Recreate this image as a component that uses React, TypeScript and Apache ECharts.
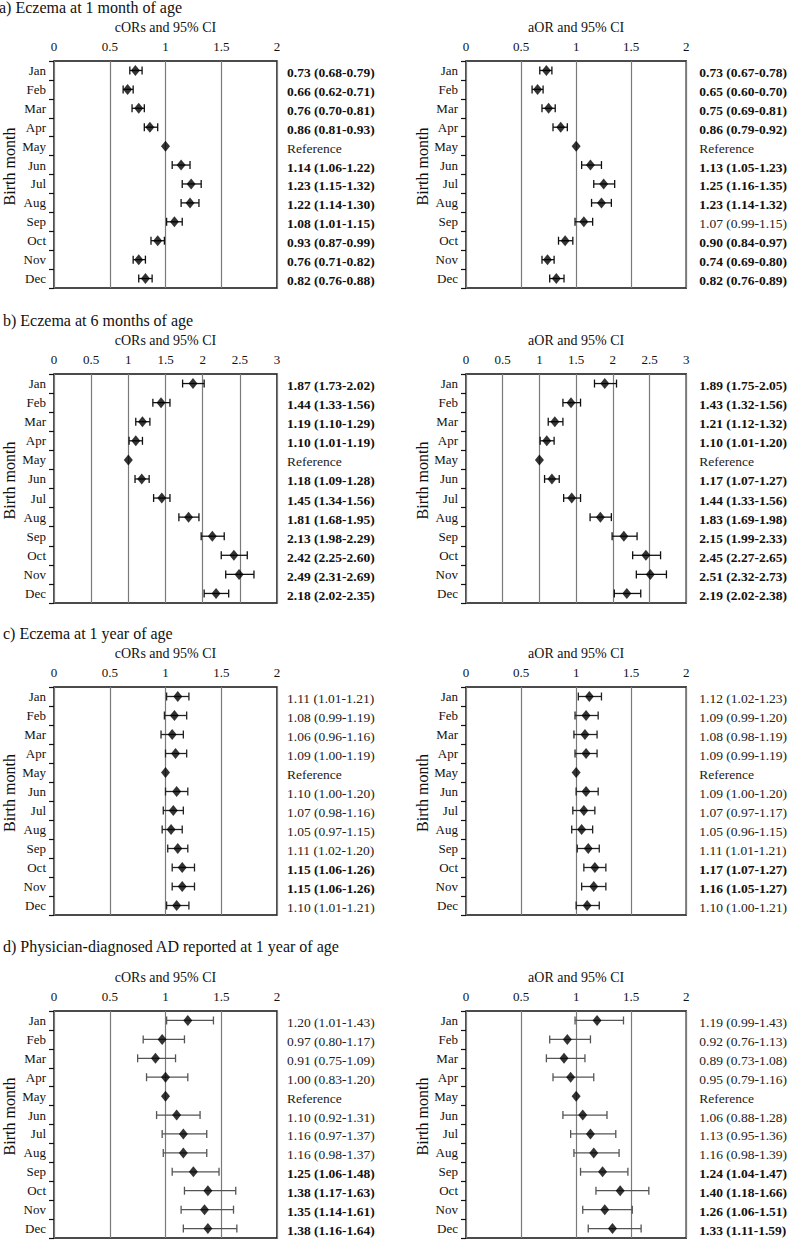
import React, { useEffect, useRef } from 'react';
import * as echarts from 'echarts';

const MONTHS = ['Jan', 'Feb', 'Mar', 'Apr', 'May', 'Jun', 'Jul', 'Aug', 'Sep', 'Oct', 'Nov', 'Dec'];

// a) Eczema at 1 month – crude
const A_C_OR = [0.73, 0.66, 0.76, 0.86, 1, 1.14, 1.23, 1.22, 1.08, 0.93, 0.76, 0.82];
const A_C_LO = [0.68, 0.62, 0.70, 0.81, null, 1.06, 1.15, 1.14, 1.01, 0.87, 0.71, 0.76];
const A_C_HI = [0.79, 0.71, 0.81, 0.93, null, 1.22, 1.32, 1.30, 1.15, 0.99, 0.82, 0.88];
const A_C_BOLD = [1, 1, 1, 1, 0, 1, 1, 1, 1, 1, 1, 1];
// a) adjusted
const A_A_OR = [0.73, 0.65, 0.75, 0.86, 1, 1.13, 1.25, 1.23, 1.07, 0.90, 0.74, 0.82];
const A_A_LO = [0.67, 0.60, 0.69, 0.79, null, 1.05, 1.16, 1.14, 0.99, 0.84, 0.69, 0.76];
const A_A_HI = [0.78, 0.70, 0.81, 0.92, null, 1.23, 1.35, 1.32, 1.15, 0.97, 0.80, 0.89];
const A_A_BOLD = [1, 1, 1, 1, 0, 1, 1, 1, 0, 1, 1, 1];

// b) Eczema at 6 months – crude
const B_C_OR = [1.87, 1.44, 1.19, 1.10, 1, 1.18, 1.45, 1.81, 2.13, 2.42, 2.49, 2.18];
const B_C_LO = [1.73, 1.33, 1.10, 1.01, null, 1.09, 1.34, 1.68, 1.98, 2.25, 2.31, 2.02];
const B_C_HI = [2.02, 1.56, 1.29, 1.19, null, 1.28, 1.56, 1.95, 2.29, 2.60, 2.69, 2.35];
const B_C_BOLD = [1, 1, 1, 1, 0, 1, 1, 1, 1, 1, 1, 1];
// b) adjusted
const B_A_OR = [1.89, 1.43, 1.21, 1.10, 1, 1.17, 1.44, 1.83, 2.15, 2.45, 2.51, 2.19];
const B_A_LO = [1.75, 1.32, 1.12, 1.01, null, 1.07, 1.33, 1.69, 1.99, 2.27, 2.32, 2.02];
const B_A_HI = [2.05, 1.56, 1.32, 1.20, null, 1.27, 1.56, 1.98, 2.33, 2.65, 2.73, 2.38];
const B_A_BOLD = [1, 1, 1, 1, 0, 1, 1, 1, 1, 1, 1, 1];

// c) Eczema at 1 year – crude
const C_C_OR = [1.11, 1.08, 1.06, 1.09, 1, 1.10, 1.07, 1.05, 1.11, 1.15, 1.15, 1.10];
const C_C_LO = [1.01, 0.99, 0.96, 1.00, null, 1.00, 0.98, 0.97, 1.02, 1.06, 1.06, 1.01];
const C_C_HI = [1.21, 1.19, 1.16, 1.19, null, 1.20, 1.16, 1.15, 1.20, 1.26, 1.26, 1.21];
const C_C_BOLD = [0, 0, 0, 0, 0, 0, 0, 0, 0, 1, 1, 0];
// c) adjusted
const C_A_OR = [1.12, 1.09, 1.08, 1.09, 1, 1.09, 1.07, 1.05, 1.11, 1.17, 1.16, 1.10];
const C_A_LO = [1.02, 0.99, 0.98, 0.99, null, 1.00, 0.97, 0.96, 1.01, 1.07, 1.05, 1.00];
const C_A_HI = [1.23, 1.20, 1.19, 1.19, null, 1.20, 1.17, 1.15, 1.21, 1.27, 1.27, 1.21];
const C_A_BOLD = [0, 0, 0, 0, 0, 0, 0, 0, 0, 1, 1, 0];

// d) Physician-diagnosed AD at 1 year – crude
const D_C_OR = [1.20, 0.97, 0.91, 1.00, 1, 1.10, 1.16, 1.16, 1.25, 1.38, 1.35, 1.38];
const D_C_LO = [1.01, 0.80, 0.75, 0.83, null, 0.92, 0.97, 0.98, 1.06, 1.17, 1.14, 1.16];
const D_C_HI = [1.43, 1.17, 1.09, 1.20, null, 1.31, 1.37, 1.37, 1.48, 1.63, 1.61, 1.64];
const D_C_BOLD = [0, 0, 0, 0, 0, 0, 0, 0, 1, 1, 1, 1];
// d) adjusted
const D_A_OR = [1.19, 0.92, 0.89, 0.95, 1, 1.06, 1.13, 1.16, 1.24, 1.40, 1.26, 1.33];
const D_A_LO = [0.99, 0.76, 0.73, 0.79, null, 0.88, 0.95, 0.98, 1.04, 1.18, 1.06, 1.11];
const D_A_HI = [1.43, 1.13, 1.08, 1.16, null, 1.28, 1.36, 1.39, 1.47, 1.66, 1.51, 1.59];
const D_A_BOLD = [0, 0, 0, 0, 0, 0, 0, 0, 1, 1, 1, 1];

const TITLES = [
  'a) Eczema at 1 month of age',
  'b) Eczema at 6 months of age',
  'c) Eczema at 1 year of age',
  'd) Physician-diagnosed AD reported at 1 year of age',
];
const AXIS_NAME_CRUDE = 'cORs and 95% CI';
const AXIS_NAME_ADJ = 'aOR and 95% CI';
const Y_NAME = 'Birth month';
const REF_TEXT = 'Reference';

const FONT = "'Liberation Serif', 'Times New Roman', Times, serif";

const ROWS = [
  { top: 61, height: 227, titleY: 7, titleX: -1, max: 2, bar: '#111' },
  { top: 374, height: 229, titleY: 320, titleX: 3, max: 3, bar: '#111' },
  { top: 687, height: 228, titleY: 633, titleX: 3, max: 2, bar: '#222' },
  { top: 1011, height: 227, titleY: 946, titleX: 3, max: 2, bar: '#555' },
];
const COLS = [
  { left: 54, width: 223, yNameX: 9, textMargin: 10, name: AXIS_NAME_CRUDE },
  { left: 466, width: 222, yNameX: 422, textMargin: 13, name: AXIS_NAME_ADJ },
];

const DATA = [
  [[A_C_OR, A_C_LO, A_C_HI, A_C_BOLD], [A_A_OR, A_A_LO, A_A_HI, A_A_BOLD]],
  [[B_C_OR, B_C_LO, B_C_HI, B_C_BOLD], [B_A_OR, B_A_LO, B_A_HI, B_A_BOLD]],
  [[C_C_OR, C_C_LO, C_C_HI, C_C_BOLD], [C_A_OR, C_A_LO, C_A_HI, C_A_BOLD]],
  [[D_C_OR, D_C_LO, D_C_HI, D_C_BOLD], [D_A_OR, D_A_LO, D_A_HI, D_A_BOLD]],
];

function buildOption() {
  const grid: any[] = [];
  const xAxis: any[] = [];
  const yAxis: any[] = [];
  const series: any[] = [];
  const graphic: any[] = [];

  ROWS.forEach((row, r) => {
    graphic.push({
      type: 'text',
      x: row.titleX,
      y: row.titleY,
      style: { text: TITLES[r], fontFamily: FONT, fontSize: 16, fill: '#111', align: 'left', verticalAlign: 'middle' },
    });
    COLS.forEach((col, c) => {
      const gi = grid.length;
      const [or, lo, hi, bold] = DATA[r][c] as any[];
      grid.push({
        left: col.left,
        top: row.top,
        width: col.width,
        height: row.height,
        show: true,
        borderColor: '#111',
        borderWidth: 1.5,
        backgroundColor: 'transparent',
        containLabel: false,
      });
      xAxis.push({
        gridIndex: gi,
        type: 'value',
        position: 'top',
        min: 0,
        max: row.max,
        interval: 0.5,
        name: col.name,
        nameLocation: 'middle',
        nameGap: 27,
        nameTextStyle: { fontFamily: FONT, fontSize: 14, color: '#111' },
        axisLine: { show: false },
        axisTick: { show: false },
        axisLabel: { fontFamily: FONT, fontSize: 13, color: '#111', margin: 8 },
        splitLine: { show: true, lineStyle: { color: '#7a7a7a', width: 1.2 } },
      });
      const leftY = yAxis.length;
      yAxis.push({
        gridIndex: gi,
        type: 'category',
        data: MONTHS,
        inverse: true,
        position: 'left',
        axisLine: { show: false },
        axisTick: { show: true, length: 5, interval: 0, lineStyle: { color: '#111', width: 1.2 } },
        axisLabel: { fontFamily: FONT, fontSize: 13, color: '#111', margin: 8, interval: 0 },
        splitLine: { show: false },
      });
      yAxis.push({
        gridIndex: gi,
        type: 'category',
        data: MONTHS,
        inverse: true,
        position: 'right',
        axisLine: { show: false },
        axisTick: { show: false },
        axisLabel: {
          interval: 0,
          margin: col.textMargin,
          padding: [4, 0, 0, 0],
          formatter: (_v: string, k: number) => {
            const txt = lo[k] == null ? REF_TEXT : `${or[k].toFixed(2)} (${lo[k].toFixed(2)}-${hi[k].toFixed(2)})`;
            return bold[k] ? `{b|${txt}}` : `{n|${txt}}`;
          },
          rich: {
            b: { fontFamily: FONT, fontSize: 13.5, fontWeight: 'bold', color: '#111' },
            n: { fontFamily: FONT, fontSize: 13.5, color: '#222' },
          },
        },
        splitLine: { show: false },
      });
      const barColor = row.bar;
      series.push({
        type: 'custom',
        xAxisIndex: gi,
        yAxisIndex: leftY,
        data: MONTHS.map((_m, k) => [k, lo[k] == null ? '-' : lo[k], hi[k] == null ? '-' : hi[k]]),
        encode: { x: [1, 2], y: 0 },
        renderItem: (_p: any, api: any) => {
          const l = api.value(1);
          const h = api.value(2);
          if (l == null || h == null || isNaN(l) || isNaN(h)) return null;
          const k = api.value(0);
          const a = api.coord([l, k]);
          const b = api.coord([h, k]);
          const cap = 4;
          const st = { stroke: barColor, lineWidth: 1.3 };
          return {
            type: 'group',
            children: [
              { type: 'line', shape: { x1: a[0], y1: a[1], x2: b[0], y2: b[1] }, style: st },
              { type: 'line', shape: { x1: a[0], y1: a[1] - cap, x2: a[0], y2: a[1] + cap }, style: st },
              { type: 'line', shape: { x1: b[0], y1: b[1] - cap, x2: b[0], y2: b[1] + cap }, style: st },
            ],
          };
        },
        z: 3,
      });
      series.push({
        type: 'scatter',
        xAxisIndex: gi,
        yAxisIndex: leftY,
        data: MONTHS.map((_m, k) => [or[k], k]),
        symbol: 'diamond',
        symbolSize: [9, 11],
        itemStyle: { color: '#000' },
        z: 4,
      });
      graphic.push({
        type: 'text',
        x: col.yNameX,
        y: row.top + row.height / 2 - 8,
        rotation: Math.PI / 2,
        style: { text: Y_NAME, fontFamily: FONT, fontSize: 16, fill: '#111', align: 'center', verticalAlign: 'middle' },
      });
    });
  });

  return {
    animation: false,
    backgroundColor: '#fff',
    textStyle: { fontFamily: FONT },
    grid,
    xAxis,
    yAxis,
    series,
    graphic,
  };
}

export default function App() {
  const ref = useRef<HTMLDivElement>(null);
  useEffect(() => {
    if (!ref.current) return;
    const chart = echarts.init(ref.current, undefined, { renderer: 'svg' });
    chart.setOption(buildOption() as any);
    return () => chart.dispose();
  }, []);
  return (
    <div
      ref={ref}
      style={{ position: 'absolute', left: 0, top: 0, width: 790, height: 1240, background: '#fff' }}
    />
  );
}
